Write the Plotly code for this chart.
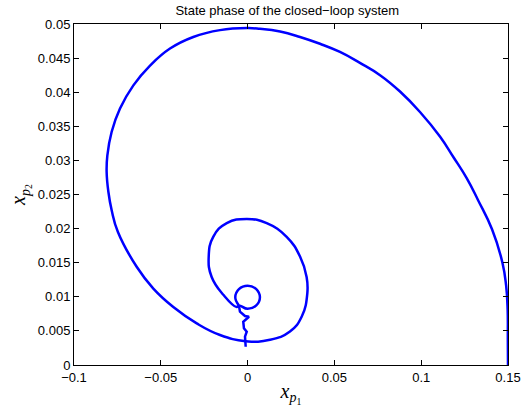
import plotly.graph_objects as go

# closed-loop state trajectory (x_p1, x_p2)
# outer spiral, middle turn and the small loop
xp1 = [
    0.15, 0.1499, 0.1498, 0.1489, 0.1468, 0.1408, 0.1327, 0.1262, 0.1185, 0.1108,
    0.0993, 0.0878, 0.0763, 0.0647, 0.0532, 0.0417, 0.0302, 0.0187, 0.0071, 0.0,
    -0.0159, -0.0313, -0.0447, -0.0562, -0.0658, -0.0735, -0.0783, -0.0808,
    -0.0812, -0.0802, -0.0783, -0.0747, -0.0639, -0.0543, -0.0428,
    -0.0293, -0.0159, -0.0011, 0.0129, 0.0244, 0.0312, 0.0344, 0.034, 0.0302,
    0.0225, 0.011, -0.0004, -0.012, -0.0198, -0.0224, -0.0207, -0.014, -0.0063,
    -0.005, 0.0, 0.005, 0.0071, 0.005, 0.0, -0.005, -0.0071, -0.005,
]
xp2 = [
    0.0, 0.0037, 0.0081, 0.0117, 0.015, 0.0199, 0.0242, 0.0274, 0.0305, 0.0335,
    0.0371, 0.0401, 0.0425, 0.0443, 0.0459, 0.0471, 0.0481, 0.0489, 0.0493, 0.0494,
    0.0491, 0.0481, 0.0464, 0.0439, 0.041, 0.0376, 0.0342, 0.0307,
    0.0283, 0.0254, 0.0227, 0.0195, 0.0144, 0.0112, 0.0085,
    0.0061, 0.0044, 0.0035, 0.0037, 0.0049, 0.0071, 0.0105, 0.0129, 0.0159,
    0.0188, 0.0208, 0.0214, 0.0208, 0.0188, 0.0159, 0.0129, 0.0103, 0.0085,
    0.00873, 0.00823, 0.00873, 0.00993, 0.01113, 0.01163, 0.01113, 0.00993, 0.00873,
]
# wiggly tail below the small loop
tail_x = [-0.005, -0.0044, -0.0015, 0.0008, -0.0025, -0.0021, -0.0005, -0.0015, -0.0011]
tail_y = [0.00873, 0.00782, 0.00718, 0.00708, 0.00635, 0.00538, 0.00488, 0.00415, 0.00268]

blue = "#0000ff"
fig = go.Figure()
fig.add_trace(go.Scatter(
    x=xp1, y=xp2, mode="lines",
    line=dict(color=blue, width=2.5, shape="spline", smoothing=1.3),
    showlegend=False,
))
fig.add_trace(go.Scatter(
    x=tail_x, y=tail_y, mode="lines",
    line=dict(color=blue, width=2.5),
    showlegend=False,
))

tick_font = dict(family="Liberation Sans, Arial", size=13, color="black")
label_font = dict(family="Liberation Serif, Times New Roman", size=20, color="black")
axis_style = dict(
    showgrid=False, zeroline=False,
    showline=True, linecolor="black", linewidth=1, mirror="ticks",
    ticks="inside", ticklen=5, tickcolor="black",
    tickfont=tick_font, automargin=False,
)

fig.update_layout(
    width=529, height=407,
    margin=dict(l=74, r=21, t=24, b=42),
    paper_bgcolor="white", plot_bgcolor="white",
    title=dict(
        text="State phase of the closed\u2212loop system",
        x=0.543, xanchor="center", y=1 - 10 / 407, yanchor="middle",
        font=tick_font,
    ),
    xaxis=dict(
        range=[-0.1, 0.15], dtick=0.05, tick0=-0.1,
        title=dict(text="<i>x</i><sub><i>p</i><sub>1</sub></sub>",
                   font=label_font, standoff=4),
        **axis_style,
    ),
    yaxis=dict(
        range=[0, 0.05], dtick=0.005, tick0=0,
        title=dict(text="<i>x</i><sub><i>p</i><sub>2</sub></sub>",
                   font=label_font, standoff=6),
        **axis_style,
    ),
)

# drop the default page margin so the figure sits at the window corner
fig.write_html("out.html", config={"displayModeBar": False},
               post_script="document.body.style.margin='0';")
